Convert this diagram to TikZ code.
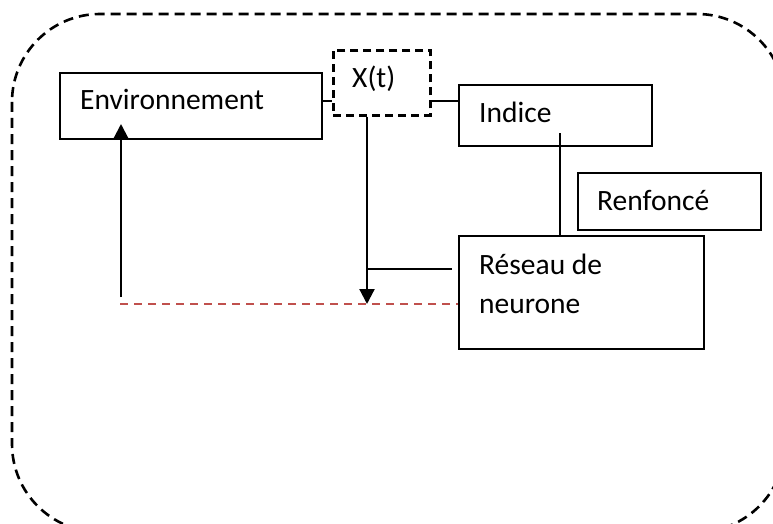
\documentclass[tikz,border=0pt]{standalone}
\usepackage{fontspec}
\setmainfont{Carlito}
\usetikzlibrary{arrows.meta}
\definecolor{offred}{RGB}{192,80,77}
\begin{document}
\begin{tikzpicture}[x=1pt,y=-1pt,
  box/.style={draw=black,line width=2.2pt,inner sep=0pt,anchor=north west},
  txt/.style={inner sep=0pt,anchor=base west,font=\fontsize{29.5}{34}\selectfont},
  conn/.style={draw=black,line width=2.2pt},
  arr/.style={conn,-{Triangle[width=15pt,length=15pt]}}]
\useasboundingbox (0,0) rectangle (773,524);
\begin{scope}
\clip (0,0) rectangle (773,524);
\draw[line width=2.6pt,dash pattern=on 10pt off 6pt,rounded corners=88pt] (12,14) rectangle (785,532);
\end{scope}
% boxes
\node[box,minimum width=262pt,minimum height=66pt] (env) at (59,72) {};
\node[box,dash pattern=on 8pt off 5pt,line width=2.6pt,minimum width=97pt,minimum height=65pt] (xt) at (332,49) {};
\node[box,minimum width=193pt,minimum height=61pt] (ind) at (458,84) {};
\node[box,minimum width=183pt,minimum height=57pt] (ren) at (577,172) {};
\node[box,minimum width=245pt,minimum height=113pt] (res) at (458,235) {};
% texts
\node[txt] (tenv) at (80,110) {Environnement};
\node[txt] (txt) at (352,88) {X(t)};
\node[txt] (tind) at (479,123) {Indice};
\node[txt] (tren) at (597,210) {Renfoncé};
\node[txt] (tres1) at (479,274) {Réseau de};
\node[txt] (tres2) at (479,313) {neurone};
% coordinates
\coordinate (dtip) at (367,304);
\coordinate (mid) at (367,269);
\coordinate (hend) at (452,269);
\coordinate (ubase) at (121,297);
\coordinate (utip) at (121,124);
\coordinate (rstart) at (120,304);
\coordinate (itop) at (560,133);
% connectors
\draw[conn] (env.east |- 0,101) -- (xt.west |- 0,101);
\draw[conn] (xt.east |- 0,101) -- (ind.west |- 0,101);
\draw[arr] (xt.south -| dtip) -- (dtip);
\draw[conn] (mid) -- (hend);
\draw[arr] (ubase) -- (utip);
\draw[draw=offred,line width=2.2pt,dash pattern=on 8pt off 6pt] (rstart) -- (res.west |- rstart);
\draw[conn] (itop) -- (res.north -| itop);
\end{tikzpicture}
\end{document}
